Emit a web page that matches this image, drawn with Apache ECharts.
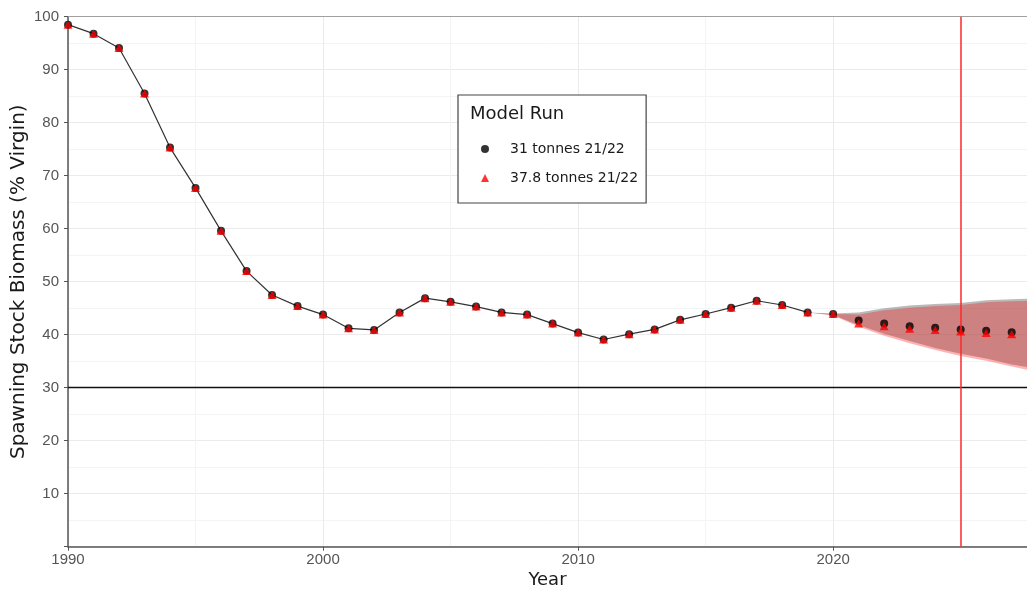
<!DOCTYPE html>
<html>
<head>
<meta charset="utf-8">
<script src="https://cdn.jsdelivr.net/npm/echarts@6/dist/echarts.min.js"></script>
<style>html,body{margin:0;padding:0;background:#fff;}#chart{width:1027px;height:590px;}</style>
</head>
<body>
<div id="chart"></div>
<script>
// ---- data ----
const histYears = [1990,1991,1992,1993,1994,1995,1996,1997,1998,1999,2000,2001,2002,2003,2004,2005,2006,2007,2008,2009,2010,2011,2012,2013,2014,2015,2016,2017,2018,2019,2020];
const histBiomass = [98.5,96.8,94.1,85.5,75.3,67.7,59.6,52.0,47.5,45.4,43.8,41.2,40.9,44.2,46.9,46.2,45.3,44.2,43.8,42.1,40.4,39.1,40.1,41.0,42.8,43.9,45.1,46.4,45.6,44.2,43.9];
const lineEndYear = 2019;
const projYears = [2021,2022,2023,2024,2025,2026,2027];
const proj31 = [42.7,42.1,41.6,41.3,41.0,40.75,40.45];
const proj378 = [42.1,41.6,41.1,40.9,40.6,40.3,40.1];
const bandYears = [2019,2020,2021,2022,2023,2024,2025,2026,2027,2028];
const band31Upper = [44.2,44.0,44.2,45.0,45.5,45.8,46.0,46.5,46.7,46.8];
const band31Lower = [44.2,43.7,41.8,40.2,38.8,37.5,36.4,35.5,34.4,33.6];
const band378Upper = [44.2,43.9,43.8,44.6,45.1,45.4,45.6,46.1,46.3,46.4];
const band378Lower = [44.2,43.6,41.5,39.8,38.4,37.1,36.0,35.1,34.0,33.0];
const refLimit = 30;
const refYear = 2025;
const seriesNames = ['31 tonnes 21/22','37.8 tonnes 21/22'];
const legendTitle = 'Model Run';

// ---- build ----
const lineData = histYears.map((y,i)=>[y,histBiomass[i]]).filter(d=>d[0]<=lineEndYear);
const pts31 = histYears.map((y,i)=>[y,histBiomass[i]]).concat(projYears.map((y,i)=>[y,proj31[i]]));
const pts378 = histYears.map((y,i)=>[y,histBiomass[i]]).concat(projYears.map((y,i)=>[y,proj378[i]]));

function bandSeries(name, lower, upper, fill, z){
  return {
    type:'custom', name:name, silent:true, clip:true, z:z,
    data: bandYears.map((y,i)=>[y, lower[i], upper[i]]),
    encode:{x:0, y:[1,2]},
    renderItem:function(params, api){
      if (params.dataIndex !== 0) return null;
      const top = bandYears.map((y,i)=>api.coord([y, upper[i]]));
      const bot = bandYears.map((y,i)=>api.coord([y, lower[i]])).reverse();
      return {type:'polygon', shape:{points: top.concat(bot)}, style:{fill:fill}};
    }
  };
}

const FONT = '"Liberation Sans", Arial, sans-serif';
const WIDE = '"DejaVu Sans", sans-serif';
const chart = echarts.init(document.getElementById('chart'), null, {renderer:'canvas'});
chart.setOption({
  animation:false,
  grid:{left:68, right:0, top:16.7, bottom:43.3, containLabel:false, outerBoundsMode:'none'},
  textStyle:{fontFamily:FONT},
  xAxis:{
    type:'value', min:1990, max:2027.6, interval:10,
    name:'Year', nameLocation:'middle', nameGap:25, nameMoveOverlap:false,
    nameTextStyle:{fontSize:18, color:'#1a1a1a', fontFamily:WIDE},
    axisLine:{show:true, onZero:false, lineStyle:{color:'#555', width:1.5}},
    axisTick:{show:true, length:4, lineStyle:{color:'#555'}},
    axisLabel:{fontSize:15, color:'#555', margin:6, fontFamily:FONT, showMaxLabel:false, formatter:v=>String(v)},
    splitLine:{show:true, lineStyle:{color:'#ebebeb', width:1}},
    minorTick:{show:false, splitNumber:2},
    minorSplitLine:{show:true, lineStyle:{color:'#f4f4f4', width:1}}
  },
  yAxis:{
    type:'value', min:0, max:100, interval:10,
    name:'Spawning Stock Biomass (% Virgin)', nameLocation:'middle', nameGap:39, nameMoveOverlap:false,
    nameTextStyle:{fontSize:20, color:'#1a1a1a', fontFamily:WIDE},
    axisLine:{show:true, onZero:false, lineStyle:{color:'#555', width:1.5}},
    axisTick:{show:true, length:4, lineStyle:{color:'#555'}},
    axisLabel:{fontSize:15, color:'#555', margin:9, fontFamily:FONT, formatter:v=>v===0?'':String(v)},
    splitLine:{show:true, lineStyle:{color:'#ebebeb', width:1}},
    minorTick:{show:false, splitNumber:2},
    minorSplitLine:{show:true, lineStyle:{color:'#f4f4f4', width:1}}
  },
  legend:{
    orient:'vertical', left:458, top:95,
    data:[{name:seriesNames[0], icon:'circle'},{name:seriesNames[1], icon:'triangle'}],
    itemWidth:8, itemHeight:8, itemGap:13,
    padding:[46,8,17,23],
    backgroundColor:'#fff', borderColor:'#444', borderWidth:1.2,
    textStyle:{fontSize:14, color:'#1a1a1a', fontFamily:WIDE, lineHeight:16, padding:[0,0,0,16]},
    selectedMode:false
  },
  graphic:[{type:'text', left:470, top:105, z:100, style:{text:legendTitle, fill:'#1a1a1a', font:'18px "DejaVu Sans", sans-serif'}}],
  series:[
    bandSeries('band31', band31Lower, band31Upper, 'rgba(128,128,128,0.55)', 1),
    bandSeries('band378', band378Lower, band378Upper, 'rgba(255,0,0,0.3)', 2),
    {type:'line', name:'history', data:lineData, symbol:'none', lineStyle:{color:'#333', width:1.2}, z:3, silent:true,
     markLine:{silent:true, symbol:'none', label:{show:false}, animation:false,
       data:[
         {yAxis:100, lineStyle:{color:'#a0a0a0', width:1.2, type:'solid'}},
         {yAxis:refLimit, lineStyle:{color:'#111', width:1.3, type:'solid'}},
         {xAxis:refYear, lineStyle:{color:'#ff2a2a', width:1.5, type:'solid'}}
       ]}},
    {type:'scatter', name:seriesNames[0], data:pts31, symbol:'circle', symbolSize:8, itemStyle:{color:'#000'}, z:4},
    {type:'scatter', name:seriesNames[1], data:pts378, symbol:'triangle', symbolSize:[9,8], itemStyle:{color:'#ff0000'}, z:5}
  ]
});
</script>
</body>
</html>
